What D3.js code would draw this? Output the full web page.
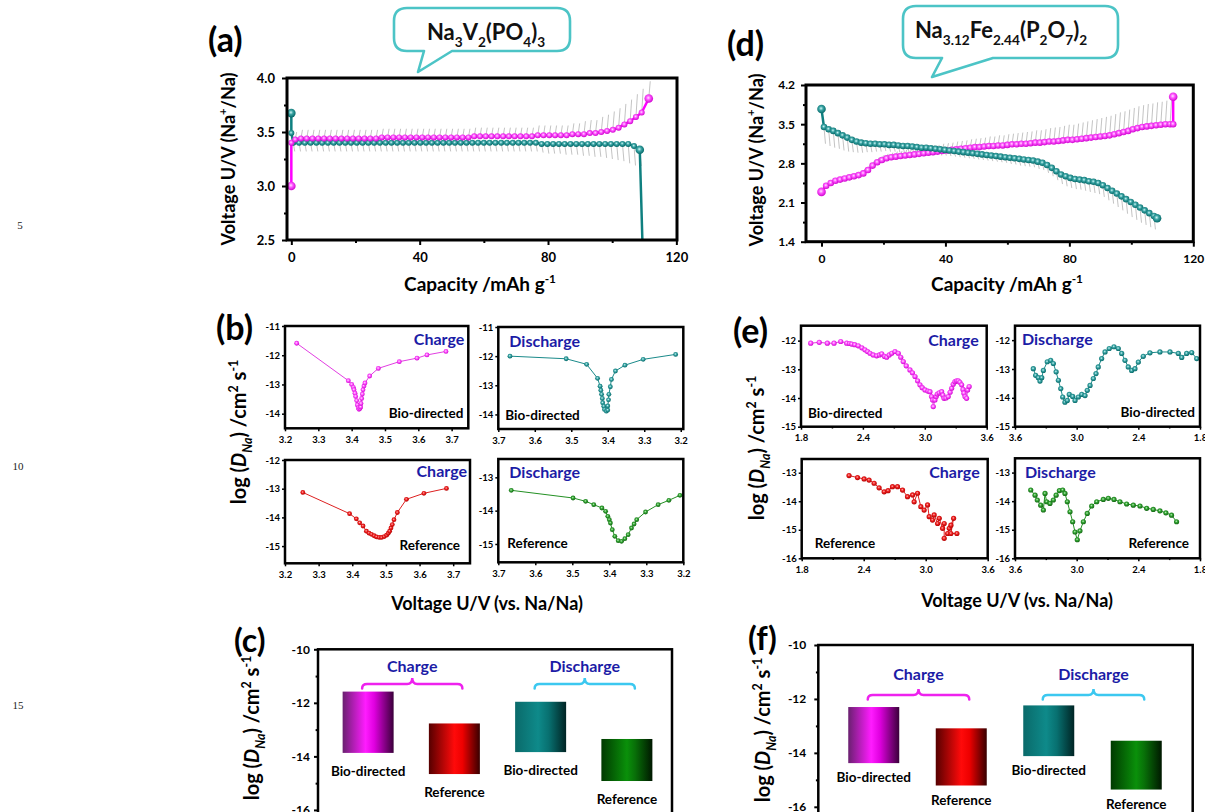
<!DOCTYPE html>
<html>
<head>
<meta charset="utf-8">
<script src="https://cdn.jsdelivr.net/npm/d3@7"></script>
<style>
body { margin: 0; background: #fff; }
svg { display: block; }
</style>
</head>
<body>
<div id="chart"></div>
<script>
// ---------- data ----------
// (a) Na3V2(PO4)3 GITT curves: [capacity, voltage, relaxation spike length]
var aCharge = [[0,3.00,0],[0,3.40,0],[1.2,3.43,0.07],[3.0,3.44,0.08],[4.8,3.44,0.08],[6.6,3.44,0.08],[8.4,3.44,0.08],[10.2,3.44,0.08],[12.0,3.44,0.08],[13.8,3.44,0.08],[15.6,3.44,0.08],[17.4,3.44,0.08],[19.2,3.44,0.08],[21.0,3.44,0.08],[22.8,3.44,0.08],[24.6,3.44,0.08],[26.4,3.44,0.08],[28.2,3.45,0.08],[30.0,3.45,0.08],[31.8,3.45,0.08],[33.6,3.45,0.08],[35.4,3.45,0.08],[37.2,3.45,0.08],[39.0,3.45,0.08],[40.8,3.45,0.08],[42.6,3.45,0.08],[44.4,3.45,0.08],[46.2,3.45,0.08],[48.0,3.45,0.08],[49.8,3.45,0.08],[51.6,3.45,0.08],[53.4,3.45,0.08],[55.2,3.45,0.08],[57.0,3.46,0.08],[58.8,3.46,0.08],[60.6,3.46,0.08],[62.4,3.46,0.08],[64.2,3.46,0.08],[66.0,3.46,0.08],[67.8,3.46,0.08],[69.6,3.46,0.08],[71.4,3.46,0.08],[73.2,3.46,0.08],[75.0,3.46,0.08],[76.8,3.47,0.09],[78.6,3.47,0.09],[80.4,3.47,0.09],[82.2,3.47,0.09],[84.0,3.47,0.09],[85.8,3.47,0.09],[87.6,3.48,0.10],[89.4,3.48,0.10],[91.2,3.48,0.12],[93.0,3.49,0.12],[94.8,3.49,0.12],[96.6,3.50,0.14],[98.4,3.51,0.15],[100.2,3.52,0.17],[102.0,3.54,0.18],[103.8,3.57,0.19],[105.6,3.60,0.20],[107.4,3.64,0.21],[109.2,3.68,0.22],[111.4,3.81,0.16]];
var aDischarge = [[0,3.675,0],[0,3.49,0],[0.6,3.40,0.08],[2.4,3.40,0.08],[4.2,3.40,0.08],[6.0,3.40,0.08],[7.8,3.40,0.08],[9.6,3.40,0.08],[11.4,3.40,0.08],[13.2,3.40,0.08],[15.0,3.40,0.08],[16.8,3.40,0.08],[18.6,3.40,0.08],[20.4,3.40,0.08],[22.2,3.40,0.08],[24.0,3.40,0.08],[25.8,3.40,0.08],[27.6,3.40,0.08],[29.4,3.40,0.08],[31.2,3.40,0.08],[33.0,3.40,0.08],[34.8,3.40,0.08],[36.6,3.40,0.08],[38.4,3.40,0.08],[40.2,3.40,0.08],[42.0,3.40,0.08],[43.8,3.40,0.08],[45.6,3.40,0.08],[47.4,3.40,0.08],[49.2,3.40,0.08],[51.0,3.40,0.08],[52.8,3.40,0.08],[54.6,3.40,0.08],[56.4,3.40,0.08],[58.2,3.40,0.08],[60.0,3.40,0.08],[61.8,3.40,0.08],[63.6,3.40,0.08],[65.4,3.40,0.08],[67.2,3.40,0.08],[69.0,3.40,0.08],[70.8,3.40,0.08],[72.6,3.40,0.08],[74.4,3.40,0.08],[76.2,3.40,0.08],[78.0,3.39,0.08],[79.8,3.39,0.09],[81.6,3.39,0.09],[83.4,3.39,0.09],[85.2,3.39,0.10],[87.0,3.39,0.10],[88.8,3.39,0.10],[90.6,3.39,0.11],[92.4,3.39,0.11],[94.2,3.39,0.12],[96.0,3.39,0.12],[97.8,3.39,0.13],[99.6,3.39,0.14],[101.4,3.39,0.15],[103.2,3.39,0.16],[105.0,3.39,0.18],[106.8,3.37,0.18],[108.6,3.335,0.15],[109.6,2.30,0]];

// (d) Na3.12Fe2.44(P2O7)2 GITT curves
var dCharge = [[0,2.29,0],[1.5,2.40,0.04],[3,2.45,0.04],[4.5,2.49,0.04],[6,2.51,0.04],[7.5,2.53,0.04],[9,2.55,0.04],[10.5,2.57,0.04],[12,2.59,0.05],[13.5,2.62,0.08],[15,2.68,0.08],[16.5,2.76,0.08],[18,2.82,0.08],[19.5,2.86,0.08],[21,2.89,0.08],[22.5,2.91,0.08],[24,2.92,0.09],[25.5,2.93,0.09],[27,2.94,0.10],[28.5,2.95,0.10],[30,2.96,0.11],[31.5,2.97,0.11],[33,2.98,0.12],[34.5,2.99,0.12],[36,3.00,0.12],[37.5,3.01,0.12],[39,3.02,0.13],[40.5,3.03,0.13],[42,3.04,0.13],[43.5,3.05,0.14],[45,3.06,0.14],[46.5,3.07,0.14],[48,3.08,0.15],[49.5,3.09,0.15],[51,3.09,0.16],[52.5,3.10,0.16],[54,3.11,0.17],[55.5,3.11,0.17],[57,3.12,0.18],[58.5,3.12,0.18],[60,3.13,0.19],[61.5,3.14,0.19],[63,3.14,0.20],[64.5,3.15,0.20],[66,3.15,0.21],[67.5,3.16,0.21],[69,3.17,0.22],[70.5,3.17,0.22],[72,3.18,0.23],[73.5,3.19,0.24],[75,3.19,0.25],[76.5,3.20,0.25],[78,3.21,0.26],[79.5,3.22,0.27],[81,3.22,0.27],[82.5,3.23,0.28],[84,3.24,0.29],[85.5,3.25,0.30],[87,3.26,0.31],[88.5,3.27,0.32],[90,3.28,0.33],[91.5,3.29,0.34],[93,3.30,0.35],[94.5,3.32,0.36],[96,3.34,0.37],[97.5,3.36,0.37],[99,3.38,0.38],[100.5,3.41,0.38],[102,3.43,0.39],[103.5,3.45,0.39],[105,3.46,0.40],[106.5,3.47,0.40],[108,3.48,0.41],[109.5,3.49,0.41],[111,3.50,0.42],[112.5,3.50,0.42],[113.5,3.50,0],[113.5,3.99,0]];
var dDischarge = [[0,3.77,0],[0.8,3.45,0.30],[2.3,3.41,0.30],[3.8,3.38,0.30],[5.3,3.34,0.28],[6.8,3.30,0.27],[8.3,3.26,0.25],[9.8,3.22,0.22],[11.3,3.19,0.20],[12.8,3.17,0.18],[14.3,3.16,0.16],[15.8,3.15,0.15],[17.3,3.15,0.14],[18.8,3.14,0.13],[20.3,3.14,0.12],[21.8,3.13,0.12],[23.3,3.13,0.12],[24.8,3.12,0.12],[26.3,3.11,0.12],[27.8,3.11,0.12],[29.3,3.10,0.12],[30.8,3.09,0.12],[32.3,3.08,0.11],[33.8,3.08,0.11],[35.3,3.07,0.11],[36.8,3.06,0.11],[38.3,3.05,0.11],[39.8,3.04,0.10],[41.3,3.03,0.10],[42.8,3.02,0.10],[44.3,3.01,0.10],[45.8,3.00,0.10],[47.3,2.99,0.10],[48.8,2.98,0.10],[50.3,2.97,0.10],[51.8,2.96,0.10],[53.3,2.95,0.10],[54.8,2.94,0.10],[56.3,2.93,0.10],[57.8,2.92,0.10],[59.3,2.91,0.10],[60.8,2.90,0.11],[62.3,2.89,0.11],[63.8,2.88,0.12],[65.3,2.87,0.12],[66.8,2.86,0.12],[68.3,2.85,0.12],[69.8,2.83,0.13],[71.3,2.81,0.13],[72.8,2.77,0.14],[74.3,2.72,0.15],[75.8,2.66,0.16],[77.3,2.60,0.17],[78.8,2.57,0.18],[80.3,2.54,0.18],[81.8,2.52,0.18],[83.3,2.51,0.18],[84.8,2.50,0.19],[86.3,2.48,0.19],[87.8,2.47,0.20],[89.3,2.45,0.20],[90.8,2.41,0.21],[92.3,2.36,0.22],[93.8,2.31,0.23],[95.3,2.26,0.24],[96.8,2.21,0.25],[98.3,2.16,0.26],[99.8,2.11,0.27],[101.3,2.06,0.27],[102.8,2.01,0.27],[104.3,1.96,0.26],[105.8,1.91,0.25],[107.3,1.86,0.24],[108.3,1.82,0]];

// (b) log D vs voltage, Na3V2(PO4)3
var bBioCharge = [[3.235,-11.59],[3.39,-12.87],[3.40,-13.0],[3.405,-13.1],[3.407,-13.18],[3.41,-13.3],[3.412,-13.41],[3.415,-13.55],[3.417,-13.7],[3.42,-13.8],[3.422,-13.85],[3.425,-13.82],[3.427,-13.77],[3.428,-13.65],[3.43,-13.48],[3.432,-13.33],[3.434,-13.18],[3.437,-13.05],[3.44,-12.95],[3.454,-12.71],[3.48,-12.45],[3.543,-12.22],[3.596,-12.10],[3.626,-11.99],[3.683,-11.87]];
var bBioDischarge = [[3.668,-12.0],[3.514,-12.09],[3.458,-12.28],[3.428,-12.76],[3.421,-13.03],[3.419,-13.17],[3.417,-13.31],[3.415,-13.45],[3.414,-13.6],[3.411,-13.72],[3.409,-13.83],[3.404,-13.89],[3.40,-13.85],[3.40,-13.71],[3.398,-13.5],[3.397,-13.31],[3.393,-13.05],[3.39,-12.80],[3.379,-12.51],[3.353,-12.31],[3.303,-12.11],[3.214,-11.94]];
var bRefCharge = [[3.253,-13.13],[3.392,-13.87],[3.412,-14.05],[3.422,-14.19],[3.432,-14.30],[3.442,-14.48],[3.45,-14.55],[3.457,-14.59],[3.465,-14.64],[3.472,-14.68],[3.48,-14.70],[3.487,-14.70],[3.495,-14.67],[3.502,-14.62],[3.507,-14.55],[3.511,-14.48],[3.515,-14.37],[3.519,-14.25],[3.524,-14.08],[3.534,-13.83],[3.561,-13.37],[3.613,-13.16],[3.68,-12.99]];
var bRefDischarge = [[3.665,-13.39],[3.498,-13.62],[3.464,-13.72],[3.442,-13.82],[3.42,-13.92],[3.41,-14.02],[3.404,-14.17],[3.40,-14.27],[3.397,-14.37],[3.392,-14.57],[3.385,-14.77],[3.376,-14.90],[3.367,-14.92],[3.358,-14.84],[3.349,-14.72],[3.34,-14.52],[3.333,-14.4],[3.326,-14.27],[3.302,-14.04],[3.268,-13.82],[3.239,-13.69],[3.209,-13.54]];

// (e) log D vs voltage, Na3.12Fe2.44(P2O7)2
var eBioCharge = [[1.894,-12.09],[1.977,-12.06],[2.055,-12.09],[2.12,-12.09],[2.185,-12.03],[2.243,-12.09],[2.27,-12.10],[2.291,-12.12],[2.32,-12.14],[2.355,-12.18],[2.39,-12.25],[2.42,-12.32],[2.445,-12.38],[2.469,-12.44],[2.50,-12.50],[2.533,-12.53],[2.56,-12.50],[2.582,-12.46],[2.61,-12.55],[2.63,-12.58],[2.655,-12.50],[2.679,-12.44],[2.711,-12.38],[2.743,-12.44],[2.767,-12.58],[2.791,-12.73],[2.82,-12.88],[2.856,-13.02],[2.88,-13.12],[2.905,-13.25],[2.93,-13.40],[2.953,-13.54],[2.975,-13.64],[3.002,-13.72],[3.03,-13.76],[3.05,-13.78],[3.065,-13.95],[3.076,-14.07],[3.082,-14.30],[3.098,-14.07],[3.11,-13.95],[3.121,-13.86],[3.14,-13.82],[3.163,-13.78],[3.175,-13.9],[3.186,-14.01],[3.205,-14.00],[3.227,-13.95],[3.245,-13.80],[3.26,-13.66],[3.275,-13.52],[3.292,-13.43],[3.308,-13.40],[3.324,-13.40],[3.34,-13.45],[3.357,-13.54],[3.37,-13.7],[3.379,-13.83],[3.39,-13.95],[3.405,-14.01],[3.415,-13.72],[3.43,-13.60]];
var eBioDischarge = [[3.422,-12.99],[3.399,-13.22],[3.373,-13.30],[3.357,-13.42],[3.34,-13.30],[3.324,-13.05],[3.286,-12.75],[3.253,-12.70],[3.227,-12.81],[3.20,-13.10],[3.178,-13.39],[3.155,-13.68],[3.136,-13.97],[3.114,-14.15],[3.091,-14.09],[3.072,-13.88],[3.039,-13.95],[3.016,-14.09],[2.984,-13.97],[2.951,-13.88],[2.919,-13.92],[2.897,-13.74],[2.87,-13.57],[2.838,-13.33],[2.812,-13.16],[2.79,-12.93],[2.757,-12.64],[2.724,-12.41],[2.683,-12.29],[2.637,-12.23],[2.595,-12.29],[2.562,-12.46],[2.53,-12.70],[2.498,-12.93],[2.465,-13.05],[2.433,-12.99],[2.40,-12.76],[2.352,-12.56],[2.287,-12.44],[2.19,-12.41],[2.092,-12.41],[2.011,-12.46],[1.978,-12.60],[1.93,-12.46],[1.881,-12.43],[1.832,-12.64]];
var eRefCharge = [[2.258,-13.10],[2.34,-13.17],[2.404,-13.22],[2.452,-13.26],[2.501,-13.37],[2.549,-13.53],[2.598,-13.67],[2.636,-13.63],[2.679,-13.49],[2.727,-13.49],[2.776,-13.61],[2.824,-13.84],[2.873,-13.78],[2.888,-14.02],[2.921,-13.72],[2.953,-14.19],[2.985,-14.31],[3.018,-14.13],[3.034,-14.54],[3.066,-14.66],[3.082,-14.48],[3.115,-14.78],[3.131,-14.60],[3.163,-14.95],[3.179,-14.78],[3.179,-15.30],[3.212,-15.13],[3.228,-14.95],[3.244,-14.84],[3.27,-14.60],[3.244,-15.13],[3.302,-15.13]];
var eRefDischarge = [[3.447,-13.61],[3.405,-13.79],[3.383,-13.96],[3.35,-14.14],[3.324,-14.31],[3.308,-13.73],[3.292,-14.02],[3.26,-14.08],[3.227,-13.96],[3.20,-13.79],[3.168,-13.63],[3.136,-13.61],[3.114,-13.73],[3.091,-14.02],[3.065,-14.37],[3.039,-14.72],[3.016,-15.08],[2.994,-15.35],[2.968,-15.04],[2.935,-14.72],[2.897,-14.43],[2.854,-14.17],[2.805,-14.02],[2.741,-13.94],[2.692,-13.90],[2.637,-13.94],[2.579,-14.02],[2.514,-14.10],[2.449,-14.14],[2.384,-14.17],[2.319,-14.25],[2.255,-14.29],[2.19,-14.34],[2.132,-14.41],[2.077,-14.49],[2.028,-14.72]];

// (c), (f) average log D: bar tops and bottoms
var barLabels = ["Bio-directed", "Reference", "Bio-directed", "Reference"];
var modes = ["Charge", "Discharge"];
var cTop = [-11.58, -12.77, -11.96, -13.35];
var cBottom = [-13.87, -14.66, -13.84, -14.92];
var fTop = [-12.30, -13.09, -12.24, -13.55];
var fBottom = [-14.38, -15.21, -14.12, -15.36];

// tick values
var capTicks = [0, 40, 80, 120], capMinor = [20, 60, 100];
var aVTicks = [2.5, 3.0, 3.5, 4.0], aVMinor = [2.75, 3.25, 3.75];
var dVTicks = [1.4, 2.1, 2.8, 3.5, 4.2], dVMinor = [1.75, 2.45, 3.15, 3.85];
var bUpTicks = [3.2, 3.3, 3.4, 3.5, 3.6, 3.7];
var eUTicks = [1.8, 2.4, 3.0, 3.6], eUMinor = [2.1, 2.7, 3.3];
var barTicks = [-16, -14, -12, -10], barMinor = [-15, -13, -11];

// ---------- drawing ----------
var width = 1205, height = 812;
var FONT = "Lato, 'Open Sans', sans-serif";
var BLUE = "#1c1ca6";

var svg = d3.select("#chart").append("svg")
    .attr("width", width).attr("height", height)
    .style("font-family", FONT);
var defs = svg.append("defs");
svg.append("rect").attr("width", width).attr("height", height).attr("fill", "#fff");

function ball(id, c0, c1, c2) {
    var gr = defs.append("radialGradient").attr("id", id)
        .attr("cx", "45%").attr("cy", "42%").attr("r", "60%");
    gr.append("stop").attr("offset", "0%").attr("stop-color", c0);
    gr.append("stop").attr("offset", "40%").attr("stop-color", c1);
    gr.append("stop").attr("offset", "100%").attr("stop-color", c2);
}
ball("bMag", "#ffe4ff", "#ff55ff", "#cc00cc");
ball("bTeal", "#d0f6f6", "#3aa4a4", "#006464");
ball("bRed", "#ffb4b4", "#ee2222", "#b00000");
ball("bGreen", "#c0eec0", "#33a433", "#0f600f");

function cyl(id, stops) {
    var gr = defs.append("linearGradient").attr("id", id)
        .attr("x1", "0%").attr("x2", "100%").attr("y1", "0%").attr("y2", "0%");
    stops.forEach(function(s) {
        gr.append("stop").attr("offset", s[0]).attr("stop-color", s[1]);
    });
}
cyl("cMag", [[0, "#6a2070"], [0.45, "#ff1cff"], [0.62, "#e000e0"], [1, "#3a003a"]]);
cyl("cRed", [[0, "#560000"], [0.5, "#ff0a0a"], [0.66, "#ee0000"], [1, "#380000"]]);
cyl("cTeal", [[0, "#0a6a6a"], [0.45, "#0e8a8a"], [0.66, "#087070"], [1, "#002424"]]);
cyl("cGreen", [[0, "#003a00"], [0.5, "#0a900a"], [0.66, "#087008"], [1, "#001800"]]);

// text with sub/superscripts: parts = [text, "sub"|"sup"|null, italic]
function rich(parent, parts, size) {
    var cur = 0;
    parts.forEach(function(p) {
        var shift = p[1] === "sub" ? 0.3 * size : p[1] === "sup" ? -0.42 * size : 0;
        var ts = parent.append("tspan").attr("dy", shift - cur).text(p[0]);
        if (p[1]) ts.attr("font-size", 0.62 * size);
        if (p[2]) ts.attr("font-style", "italic");
        cur = shift;
    });
}
function title(x, y, parts, size, rot, anchor, color) {
    var t = svg.append("text")
        .attr("font-size", size).attr("font-weight", "bold")
        .attr("fill", color || "#000")
        .attr("text-anchor", anchor || "middle")
        .attr("transform", "translate(" + x + "," + y + ")" + (rot ? " rotate(" + rot + ")" : ""));
    rich(t, parts, size);
    return t;
}

var clipCount = 0;
function panel(o) {
    var x = d3.scaleLinear().domain(o.xd).range([o.x0, o.x1]);
    var y = d3.scaleLinear().domain(o.yd).range([o.y1, o.y0]);
    var id = "clip" + (clipCount++);
    defs.append("clipPath").attr("id", id).append("rect")
        .attr("x", o.x0).attr("y", o.y0).attr("width", o.x1 - o.x0).attr("height", o.y1 - o.y0);
    var g = svg.append("g");
    var plot = g.append("g").attr("clip-path", "url(#" + id + ")");
    var ax = g.append("g");
    var blank = function() { return ""; };
    if (o.xt) ax.append("g").attr("transform", "translate(0," + o.y1 + ")")
        .call(d3.axisBottom(x).tickValues(o.xt).tickSize(o.tl).tickPadding(o.xp).tickFormat(o.xf));
    if (o.xm) ax.append("g").attr("transform", "translate(0," + o.y1 + ")")
        .call(d3.axisBottom(x).tickValues(o.xm).tickSize(o.tl * 0.6).tickFormat(blank));
    ax.append("g").attr("transform", "translate(" + o.x0 + ",0)")
        .call(d3.axisLeft(y).tickValues(o.yt).tickSize(o.tl).tickPadding(o.yp).tickFormat(o.yf));
    if (o.ym) ax.append("g").attr("transform", "translate(" + o.x0 + ",0)")
        .call(d3.axisLeft(y).tickValues(o.ym).tickSize(o.tl * 0.6).tickFormat(blank));
    ax.selectAll(".domain").remove();
    ax.selectAll(".tick line").attr("stroke", "#000").attr("stroke-width", o.tw);
    ax.selectAll(".tick text").attr("font-size", o.fs).attr("font-weight", "bold")
        .attr("fill", "#000").attr("font-family", FONT);
    g.append("rect").attr("x", o.x0).attr("y", o.y0)
        .attr("width", o.x1 - o.x0).attr("height", o.y1 - o.y0)
        .attr("fill", "none").attr("stroke", "#000").attr("stroke-width", o.sw);
    return { x: x, y: y, plot: plot, o: o };
}

function spikes(p, data, dir) {
    p.plot.selectAll(null).data(data.filter(function(d) { return d[2] > 0; }))
        .enter().append("line")
        .attr("x1", function(d) { return p.x(d[0]); })
        .attr("y1", function(d) { return p.y(d[1]); })
        .attr("x2", function(d) { return p.x(d[0]) + 1.5; })
        .attr("y2", function(d) { return p.y(d[1] + dir * d[2]); })
        .attr("stroke", "#b4b4b4").attr("stroke-width", 0.8);
}

function curve(p, data, color, fill, lw, r, rBig) {
    var line = d3.line()
        .x(function(d) { return p.x(d[0]); })
        .y(function(d) { return p.y(d[1]); });
    p.plot.append("path").datum(data).attr("d", line)
        .attr("fill", "none").attr("stroke", color).attr("stroke-width", lw)
        .attr("stroke-linejoin", "round");
    var ymin = d3.min(p.y.domain());
    var last = data.length - 1;
    while (last > 0 && data[last][1] < ymin) last--;
    p.plot.selectAll(null).data(data).enter().append("circle")
        .attr("cx", function(d) { return p.x(d[0]); })
        .attr("cy", function(d) { return p.y(d[1]); })
        .attr("r", function(d, i) { return rBig && (i === 0 || i === last) ? rBig : r; })
        .attr("fill", "url(#" + fill + ")");
}

function tag(p, text, where, dx, dy, color, size) {
    var o = p.o;
    var left = where.indexOf("l") >= 0, top = where.indexOf("t") >= 0;
    svg.append("text")
        .attr("x", left ? o.x0 + dx : o.x1 - dx)
        .attr("y", top ? o.y0 + dy : o.y1 - dy)
        .attr("text-anchor", left ? "start" : "end")
        .attr("font-size", size).attr("font-weight", "bold")
        .attr("fill", color).text(text);
}

function bubble(x0, x1, y0, y1, b0, b1, tx, ty, parts, cx, cy) {
    var r = 13;
    var d = "M" + (x0 + r) + "," + y0 + " H" + (x1 - r) +
        " Q" + x1 + "," + y0 + " " + x1 + "," + (y0 + r) + " V" + (y1 - r) +
        " Q" + x1 + "," + y1 + " " + (x1 - r) + "," + y1 + " H" + b1 +
        " L" + tx + "," + ty + " L" + b0 + "," + y1 + " H" + (x0 + r) +
        " Q" + x0 + "," + y1 + " " + x0 + "," + (y1 - r) + " V" + (y0 + r) +
        " Q" + x0 + "," + y0 + " " + (x0 + r) + "," + y0 + " Z";
    svg.append("path").attr("d", d).attr("fill", "#fff")
        .attr("stroke", "#4cc4c6").attr("stroke-width", 2.6).attr("stroke-linejoin", "round");
    title(cx, cy, parts, 22, 0, "middle", "#111");
}

var f1 = function(d) { return d.toFixed(1); };
var fi = function(d) { return String(d); };

// ----- (a) -----
var pa = panel({ x0: 287, x1: 677, y0: 78, y1: 240, xd: [-1.35, 120.2], yd: [2.5, 4.0],
    xt: capTicks, xm: capMinor, yt: aVTicks, ym: aVMinor, xf: fi, yf: f1,
    tl: 5, xp: 8, yp: 7, fs: 13, sw: 3, tw: 2 });
spikes(pa, aCharge, 1);
spikes(pa, aDischarge, -1);
curve(pa, aDischarge, "#0f8080", "bTeal", 2.5, 3, 4.3);
curve(pa, aCharge, "#ff00ff", "bMag", 2.5, 3, 4.3);

// ----- (d) -----
var pd = panel({ x0: 806, x1: 1193.3, y0: 85, y1: 241.7, xd: [-5, 120], yd: [1.4, 4.2],
    xt: capTicks, xm: capMinor, yt: dVTicks, ym: dVMinor, xf: fi, yf: f1,
    tl: 5, xp: 8, yp: 6, fs: 12, sw: 3, tw: 2 });
spikes(pd, dCharge, 1);
spikes(pd, dDischarge, -1);
curve(pd, dCharge, "#ff00ff", "bMag", 2.5, 3.3, 4.3);
curve(pd, dDischarge, "#0f8080", "bTeal", 2.5, 3.3, 4.3);

// ----- (b) -----
var smallB = { tl: 3, xp: 5, yp: 2, fs: 9.5, sw: 2.5, tw: 1.5, xf: f1, yf: fi };
var pb1 = panel(Object.assign({ x0: 285, x1: 468.3, y0: 326, y1: 428.3, xd: [3.2, 3.75], yd: [-14.5, -11],
    xt: bUpTicks, yt: [-14, -13, -12, -11] }, smallB));
var pb2 = panel(Object.assign({ x0: 498.3, x1: 683.3, y0: 327, y1: 429, xd: [3.7, 3.193], yd: [-14.5, -11],
    xt: bUpTicks, yt: [-14, -13, -12, -11] }, smallB));
var pb3 = panel(Object.assign({ x0: 285, x1: 470, y0: 460, y1: 563.3, xd: [3.2, 3.75], yd: [-15.6, -12],
    xt: bUpTicks, yt: [-15, -14, -13, -12] }, smallB));
var pb4 = panel(Object.assign({ x0: 498.3, x1: 683.3, y0: 459, y1: 562.3, xd: [3.7, 3.2], yd: [-15.55, -12.45],
    xt: bUpTicks, yt: [-15, -14, -13] }, smallB));
curve(pb1, bBioCharge, "#e23ee2", "bMag", 1, 2.4);
curve(pb2, bBioDischarge, "#1a8a8a", "bTeal", 1, 2.4);
curve(pb3, bRefCharge, "#dd2020", "bRed", 1, 2.4);
curve(pb4, bRefDischarge, "#239023", "bGreen", 1, 2.4);
tag(pb1, "Charge", "tr", 4, 19, BLUE, 16);
tag(pb1, "Bio-directed", "br", 5, 10, "#000", 13.5);
tag(pb2, "Discharge", "tl", 11, 20, BLUE, 16);
tag(pb2, "Bio-directed", "bl", 7, 9, "#000", 13.5);
tag(pb3, "Charge", "tr", 3, 17, BLUE, 16);
tag(pb3, "Reference", "br", 10, 13, "#000", 13.5);
tag(pb4, "Discharge", "tl", 11, 19, BLUE, 16);
tag(pb4, "Reference", "bl", 9, 14, "#000", 13.5);

// ----- (e) -----
var smallE = { tl: 3, xp: 5, yp: 2, fs: 9.5, sw: 2.5, tw: 1.5, xf: f1, yf: fi, xt: eUTicks, xm: eUMinor };
var pe1 = panel(Object.assign({ x0: 801, x1: 986.7, y0: 325.7, y1: 426.7, xd: [1.8, 3.6], yd: [-15, -11.48],
    yt: [-15, -14, -13, -12] }, smallE));
var pe2 = panel(Object.assign({ x0: 1015, x1: 1200, y0: 325.7, y1: 426.7, xd: [3.6, 1.8], yd: [-15, -11.5],
    yt: [-15, -14, -13, -12] }, smallE));
var pe3 = panel(Object.assign({ x0: 801.7, x1: 987.7, y0: 459, y1: 558.3, xd: [1.8, 3.6], yd: [-16, -12.52],
    yt: [-16, -15, -14, -13] }, smallE));
var pe4 = panel(Object.assign({ x0: 1015, x1: 1200, y0: 458.3, y1: 558.3, xd: [3.6, 1.8], yd: [-16, -12.5],
    yt: [-16, -15, -14, -13] }, smallE));
curve(pe1, eBioCharge, "#e23ee2", "bMag", 1, 2.6);
curve(pe2, eBioDischarge, "#1a8a8a", "bTeal", 1, 2.6);
curve(pe3, eRefCharge, "#dd2020", "bRed", 1, 2.6);
curve(pe4, eRefDischarge, "#239023", "bGreen", 1, 2.6);
tag(pe1, "Charge", "tr", 8, 20, BLUE, 16);
tag(pe1, "Bio-directed", "bl", 7, 9, "#000", 13.5);
tag(pe2, "Discharge", "tl", 7, 19, BLUE, 16);
tag(pe2, "Bio-directed", "br", 5, 10, "#000", 13.5);
tag(pe3, "Charge", "tr", 8, 19, BLUE, 16);
tag(pe3, "Reference", "bl", 13, 10, "#000", 13.5);
tag(pe4, "Discharge", "tl", 10, 20, BLUE, 16);
tag(pe4, "Reference", "br", 11, 10, "#000", 13.5);

// ----- (c), (f) bars -----
var barGrads = ["cMag", "cRed", "cTeal", "cGreen"];
var braceColors = ["#ee22ee", "#3cc8f0"];
function barPanel(p, tops, bottoms, lo, hi, bw, braceY, textGap, labelGap) {
    var xb = d3.scalePoint().domain(d3.range(tops.length)).range([lo, hi]).padding(0.5);
    p.plot.selectAll(null).data(tops).enter().append("rect")
        .attr("x", function(d, i) { return xb(i) - bw / 2; })
        .attr("width", bw)
        .attr("y", function(d) { return p.y(d); })
        .attr("height", function(d, i) { return p.y(bottoms[i]) - p.y(d); })
        .attr("fill", function(d, i) { return "url(#" + barGrads[i] + ")"; });
    svg.selectAll(null).data(barLabels).enter().append("text")
        .attr("x", function(d, i) { return xb(i); })
        .attr("y", function(d, i) { return p.y(bottoms[i]) + labelGap; })
        .attr("text-anchor", "middle").attr("font-size", 13.5).attr("font-weight", "bold")
        .attr("fill", "#000").text(function(d) { return d; });
    modes.forEach(function(m, k) {
        var xa = xb(2 * k) - 6, xz = xb(2 * k + 1) + 8, xm = (xa + xz) / 2, yl = braceY;
        var d = "M" + xa + "," + (yl + 4.5) + " Q" + xa + "," + yl + " " + (xa + 5) + "," + yl +
            " L" + (xm - 5) + "," + yl + " Q" + xm + "," + yl + " " + xm + "," + (yl - 6) +
            " Q" + xm + "," + yl + " " + (xm + 5) + "," + yl +
            " L" + (xz - 5) + "," + yl + " Q" + xz + "," + yl + " " + xz + "," + (yl + 4.5);
        svg.append("path").attr("d", d).attr("fill", "none")
            .attr("stroke", braceColors[k]).attr("stroke-width", 2.5).attr("stroke-linecap", "round");
        svg.append("text").attr("x", xm).attr("y", yl - textGap)
            .attr("text-anchor", "middle").attr("font-size", 16).attr("font-weight", "bold")
            .attr("fill", BLUE).text(m);
    });
}
var pc = panel({ x0: 318, x1: 672, y0: 649.3, y1: 830, xd: [0, 1], yd: [-16.75, -10],
    yt: barTicks, ym: barMinor, yf: fi, tl: 4, yp: 4, fs: 12, sw: 2.5, tw: 2 });
barPanel(pc, cTop, cBottom, 325, 670, 51, 684, 12, 23);
var pf = panel({ x0: 818.3, x1: 1192.7, y0: 645, y1: 830, xd: [0, 1], yd: [-16.86, -10],
    yt: barTicks, ym: barMinor, yf: fi, tl: 4, yp: 8, fs: 12, sw: 2.5, tw: 2 });
barPanel(pf, fTop, fBottom, 830, 1180, 51, 695, 15, 19);

// ----- titles, labels -----
var capTitle = [["Capacity /mAh g"], ["-1", "sup"]];
var voltTitle = [["Voltage U/V (Na"], ["+", "sup"], ["/Na)"]];
var logTitle = [["log ("], ["D", null, true], ["Na", "sub", true], [") /cm"], ["2", "sup"], [" s"], ["-1", "sup"]];
var uTitle = [["Voltage U/V (vs. Na/Na)"]];

title(480, 291, capTitle, 19);
title(1007, 291, capTitle, 19);
title(235, 159, voltTitle, 18, -90);
title(763, 160, voltTitle, 18, -90);
title(487, 610, uTitle, 18);
title(1017, 607, uTitle, 18);
title(246, 432, logTitle, 20, -90);
title(764, 448, logTitle, 20, -90);
title(259, 728, logTitle, 20, -90);
title(770, 730, logTitle, 20, -90);

[["(a)", 208, 52, 34], ["(d)", 727, 56, 34], ["(b)", 216, 340, 34], ["(e)", 733, 343, 34],
 ["(c)", 234, 652, 32], ["(f)", 748, 650, 32]].forEach(function(l) {
    svg.append("text").attr("x", l[1]).attr("y", l[2]).attr("font-size", l[3])
        .attr("font-weight", "bold").attr("fill", "#000").text(l[0]);
});

bubble(394, 570, 8, 51, 424, 452, 418, 72,
    [["Na"], ["3", "sub"], ["V"], ["2", "sub"], ["(PO"], ["4", "sub"], [")"], ["3", "sub"]], 486, 40);
bubble(903, 1118, 6, 58, 942, 993, 932, 77,
    [["Na"], ["3.12", "sub"], ["Fe"], ["2.44", "sub"], ["(P"], ["2", "sub"], ["O"], ["7", "sub"], [")"], ["2", "sub"]], 1001, 38);

// manuscript line numbers
[["5", 20, 229], ["10", 18, 470], ["15", 18, 709]].forEach(function(l) {
    svg.append("text").attr("x", l[1]).attr("y", l[2]).attr("text-anchor", "middle")
        .attr("font-family", "'Liberation Serif', 'DejaVu Serif', serif")
        .attr("font-size", 11).attr("fill", "#222").text(l[0]);
});
</script>
</body>
</html>
